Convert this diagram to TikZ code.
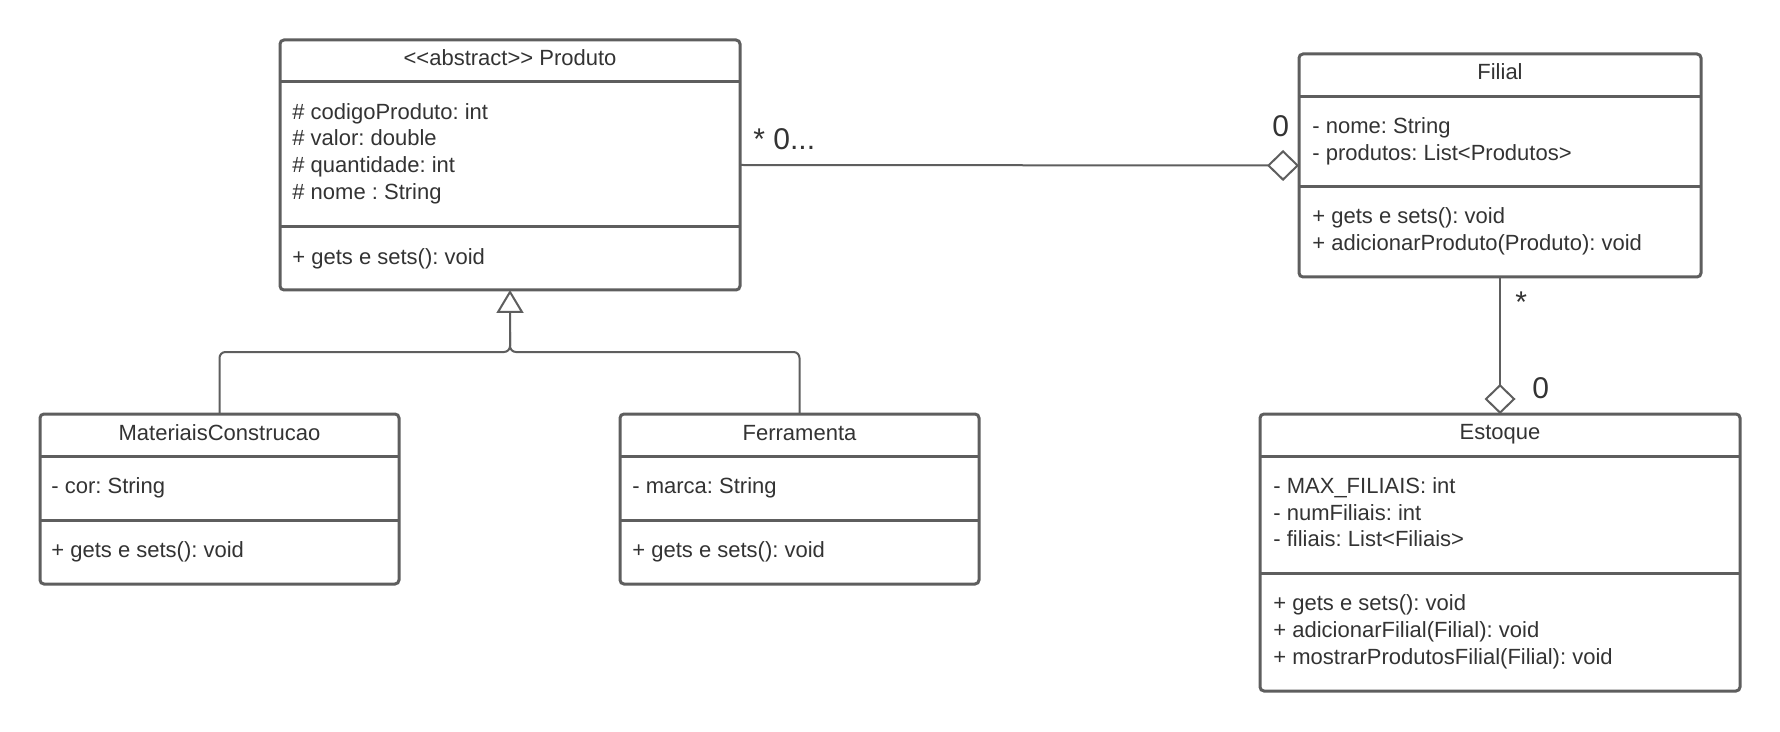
\documentclass[tikz,border=0pt]{standalone}
\usepackage{fontspec}
\setmainfont{Liberation Sans}
\usetikzlibrary{arrows.meta}
\definecolor{linegray}{HTML}{5E5E5E}
\definecolor{txtgray}{HTML}{333333}
\frenchspacing
\tikzset{
  classbox/.style={draw=linegray, line width=1.5pt, rounded corners=2pt, inner sep=0pt, outer sep=0pt, anchor=north west},
  sepline/.style={draw=linegray, line width=1.5pt},
  txt/.style={text=txtgray, font=\fontsize{11}{13}\selectfont, inner sep=0pt, anchor=base west},
  ttl/.style={txt, anchor=base},
  mult/.style={text=txtgray, font=\fontsize{15}{18}\selectfont, inner sep=0pt, anchor=base west},
  conn/.style={draw=linegray, line width=1pt},
}
\begin{document}
\begin{tikzpicture}[x=0.5pt,y=-0.5pt]
\fill[white] (0,0) rectangle (1780,732);
\useasboundingbox (0,0) rectangle (1780,732);

% ---------- Produto ----------
\node[classbox, minimum width=230pt, minimum height=125pt] (produto) at (280,40) {};
\draw[sepline] (produto.west |- 0,82) -- (produto.east |- 0,82);
\draw[sepline] (produto.west |- 0,227) -- (produto.east |- 0,227);
\node[ttl] (produtoT) at (510,65.5) {<\kern0pt<abstract>\kern0pt> Produto};
\node[txt] (p1) at (292,119.5) {\# codigoProduto: int};
\node[txt] (p2) at (292,146) {\# valor: double};
\node[txt] (p3) at (292,172.5) {\# quantidade: int};
\node[txt] (p4) at (292,199.2) {\# nome : String};
\node[txt] (p5) at (292,264.5) {+ gets e sets(): void};

% ---------- Filial ----------
\node[classbox, minimum width=201pt, minimum height=111.5pt] (filial) at (1299,54) {};
\draw[sepline] (filial.west |- 0,97) -- (filial.east |- 0,97);
\draw[sepline] (filial.west |- 0,187) -- (filial.east |- 0,187);
\node[ttl] (filialT) at (1500,79.5) {Filial};
\node[txt] (f1) at (1312,133.5) {- nome: String};
\node[txt] (f2) at (1312,160.5) {- produtos: List<Produtos>};
\node[txt] (f3) at (1312,223.5) {+ gets e sets(): void};
\node[txt] (f4) at (1312,250.5) {+ adicionarProduto(Produto): void};

% ---------- MateriaisConstrucao ----------
\node[classbox, minimum width=179.5pt, minimum height=85pt] (mc) at (40,414) {};
\draw[sepline] (mc.west |- 0,456) -- (mc.east |- 0,456);
\draw[sepline] (mc.west |- 0,520) -- (mc.east |- 0,520);
\node[ttl] (mcT) at (219.5,440.5) {MateriaisConstrucao};
\node[txt] (m1) at (51,493.5) {- cor: String};
\node[txt] (m2) at (51,557.5) {+ gets e sets(): void};

% ---------- Ferramenta ----------
\node[classbox, minimum width=179.5pt, minimum height=85pt] (ferr) at (620,414) {};
\draw[sepline] (ferr.west |- 0,456) -- (ferr.east |- 0,456);
\draw[sepline] (ferr.west |- 0,520) -- (ferr.east |- 0,520);
\node[ttl] (ferrT) at (799.5,440.5) {Ferramenta};
\node[txt] (r1) at (632,493.5) {- marca: String};
\node[txt] (r2) at (632,557.5) {+ gets e sets(): void};

% ---------- Estoque ----------
\node[classbox, minimum width=240pt, minimum height=138.5pt] (estoque) at (1260,414) {};
\draw[sepline] (estoque.west |- 0,456) -- (estoque.east |- 0,456);
\draw[sepline] (estoque.west |- 0,573) -- (estoque.east |- 0,573);
\node[ttl] (estoqueT) at (1500,439.5) {Estoque};
\node[txt] (e1) at (1273,493.5) {- MAX\_FILIAIS: int};
\node[txt] (e2) at (1273,520.5) {- numFiliais: int};
\node[txt] (e3) at (1273,546) {- filiais: List<Filiais>};
\node[txt] (e4) at (1273,610.5) {+ gets e sets(): void};
\node[txt] (e5) at (1273,637.5) {+ adicionarFilial(Filial): void};
\node[txt] (e6) at (1273,664.5) {+ mostrarProdutosFilial(Filial): void};

% ---------- connectors ----------
\coordinate (junction) at (510,352);
\draw[conn, rounded corners=3pt, -{Triangle[open, length=11.5pt, width=13.5pt]}]
  (mc.north) -- (mc.north |- junction) -- (junction) -- (produto.south);
\draw[conn, rounded corners=3pt]
  (ferr.north) -- (ferr.north |- junction) -- (junction) -- ++(0,-20);

\draw[conn, -{Diamond[open, length=16pt, width=15.5pt]}] (produto.east) -- (filial.west);
\draw[conn, -{Diamond[open, length=15pt, width=15.5pt]}] (filial.south) -- (estoque.north);

% ---------- multiplicities ----------
\node[mult] (lbl1) at (753,150) {* 0...};
\node[mult] (lbl2) at (1272,137) {0};
\node[mult] (lbl3) at (1515,313) {*};
\node[mult] (lbl4) at (1532,398) {0};
\end{tikzpicture}
\end{document}
